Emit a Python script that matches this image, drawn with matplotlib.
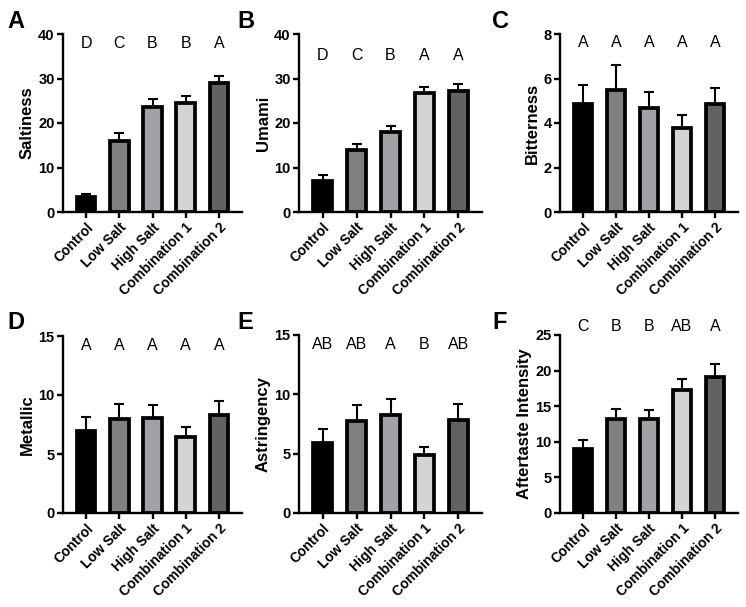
import matplotlib
matplotlib.use("Agg")
import matplotlib.pyplot as plt
import numpy as np

plt.rcParams['font.family'] = ['Liberation Sans', 'DejaVu Sans']

groups = ["Control", "Low Salt", "High Salt", "Combination 1", "Combination 2"]
bar_colors = ["#000000", "#808080", "#a1a1a6", "#d4d4d4", "#626262"]

saltiness_mean = [3.4, 15.9, 23.6, 24.6, 28.9]
saltiness_sem = [0.7, 1.8, 1.9, 1.5, 1.7]
saltiness_letters = ["D", "C", "B", "B", "A"]

umami_mean = [7.0, 14.0, 17.9, 26.8, 27.2]
umami_sem = [1.4, 1.3, 1.4, 1.4, 1.6]
umami_letters = ["D", "C", "B", "A", "A"]

bitterness_mean = [4.85, 5.48, 4.67, 3.77, 4.85]
bitterness_sem = [0.85, 1.14, 0.72, 0.61, 0.72]
bitterness_letters = ["A", "A", "A", "A", "A"]

metallic_mean = [6.96, 7.98, 8.04, 6.4, 8.29]
metallic_sem = [1.14, 1.27, 1.1, 0.93, 1.19]
metallic_letters = ["A", "A", "A", "A", "A"]

astringency_mean = [5.88, 7.74, 8.28, 4.9, 7.83]
astringency_sem = [1.22, 1.33, 1.35, 0.7, 1.37]
astringency_letters = ["AB", "AB", "A", "B", "AB"]

aftertaste_mean = [8.97, 13.2, 13.18, 17.29, 19.16]
aftertaste_sem = [1.31, 1.47, 1.31, 1.5, 1.73]
aftertaste_letters = ["C", "B", "B", "AB", "A"]

panels = [
    ("A", "Saltiness", saltiness_mean, saltiness_sem, saltiness_letters, 40, 10, (63, 242, 34, 212), 0.944),
    ("B", "Umami", umami_mean, umami_sem, umami_letters, 40, 10, (299, 482, 34, 212), 0.88),
    ("C", "Bitterness", bitterness_mean, bitterness_sem, bitterness_letters, 8, 2, (560, 738, 34, 212), 0.955),
    ("D", "Metallic", metallic_mean, metallic_sem, metallic_letters, 15, 5, (63, 242, 336, 513), 0.949),
    ("E", "Astringency", astringency_mean, astringency_sem, astringency_letters, 15, 5, (299, 482, 335, 513), 0.949),
    ("F", "Aftertaste Intensity", aftertaste_mean, aftertaste_sem, aftertaste_letters, 25, 5, (560, 738, 335, 513), 1.045),
]
panel_label_pos = {"A": (7, 10), "B": (237, 10), "C": (492, 10),
                   "D": (7, 311), "E": (237, 311), "F": (492, 311)}

W, H = 746, 607
fig = plt.figure(figsize=(W / 100, H / 100), dpi=100)

for label, ylabel, means, sems, letters, ymax, ystep, (l, r, t, b), ly in panels:
    ax = fig.add_axes([l / W, 1 - b / H, (r - l) / W, (b - t) / H])
    x = np.arange(len(groups))
    ax.errorbar(x, means, yerr=[np.zeros(len(sems)), sems], fmt='none',
                ecolor='black', elinewidth=1.5, capsize=3.6, capthick=1.5, zorder=1)
    ax.bar(x, means, width=0.56, color=bar_colors, edgecolor='black',
           linewidth=2.7, zorder=2)
    ax.set_xlim(-0.7, 4.7)
    ax.set_ylim(0, ymax)
    ax.set_yticks(np.arange(0, ymax + 0.001, ystep))
    ax.set_xticks(x)
    ax.set_xticklabels(groups, rotation=45, ha='right', rotation_mode='anchor',
                       fontsize=10, fontweight='bold')
    for tl in ax.get_yticklabels():
        tl.set_fontweight('bold')
        tl.set_fontsize(10.5)
    ax.spines['top'].set_visible(False)
    ax.spines['right'].set_visible(False)
    ax.spines['left'].set_linewidth(1.7)
    ax.spines['bottom'].set_linewidth(1.7)
    ax.spines['left'].set_capstyle('projecting')
    ax.tick_params(axis='both', direction='out', length=4.5, width=1.7, pad=1.5)
    ax.set_ylabel(ylabel, fontsize=12, fontweight='bold', labelpad=2.5)
    for xi, letter in zip(x, letters):
        ax.text(xi, ly, letter, transform=ax.get_xaxis_transform(),
                ha='center', va='center', fontsize=11.5, clip_on=False)
    px, py = panel_label_pos[label]
    fig.text(px / W, 1 - py / H, label, fontsize=17, fontweight='bold',
             ha='left', va='top')

fig.savefig("out.png", dpi=100)
